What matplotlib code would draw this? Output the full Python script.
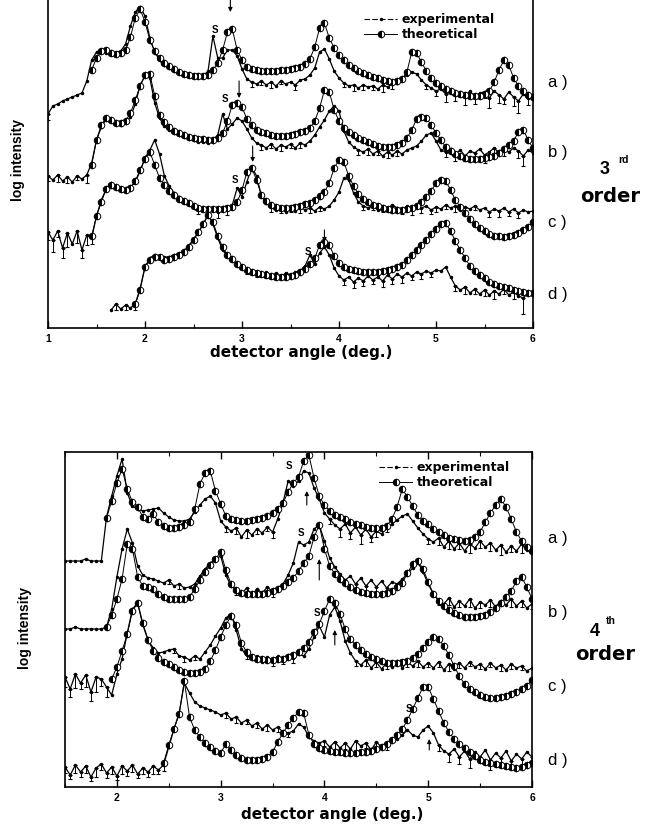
import matplotlib
matplotlib.use("Agg")
import matplotlib.pyplot as plt
from matplotlib.lines import Line2D
from matplotlib.ticker import MultipleLocator
import numpy as np

plt.rcParams['font.family'] = ['Liberation Sans', 'DejaVu Sans']

# detector angle grid step (deg) for every series
STEP = 0.05

# ---------------- 3rd order (upper panel), log intensity in arbitrary units
top_a_exp_start = 1.00
top_a_exp = [214, 222, 224, 227, 229, 231, 233, 235, 247, 268,
             276, 278, 275, 274, 275, 277, 284, 302, 316, 321,
             312, 290, 276, 268, 263, 260, 257, 255, 254, 253,
             252, 251, 252, 257, 292, 270, 270, 278, 278, 272,
             259, 249, 246, 244, 247, 243, 246, 242, 247, 244,
             246, 243, 248, 249, 253, 260, 276, 279, 269, 257,
             250, 245, 242, 243, 240, 243, 241, 242, 239, 243,
             241, 244, 245, 249, 253, 256, 254, 248, 243, 240,
             237, 239, 234, 237, 233, 236, 232, 237, 231, 235,
             236, 230, 237, 233, 229, 236, 231, 227, 234, 230,
             232]
top_a_err = [6, 0, 0, 0, 0, 0, 0, 0, 0, 0,
             0, 0, 0, 0, 0, 0, 0, 0, 0, 0,
             0, 0, 0, 0, 0, 0, 0, 0, 0, 0,
             0, 0, 0, 0, 0, 0, 0, 0, 0, 0,
             0, 0, 5, 0, 4, 0, 6, 0, 3, 0,
             0, 5, 0, 0, 0, 0, 0, 0, 0, 0,
             0, 4, 0, 6, 0, 5, 0, 4, 0, 7,
             0, 5, 0, 0, 0, 0, 0, 0, 4, 0,
             5, 0, 8, 0, 6, 0, 9, 0, 7, 0,
             6, 10, 0, 8, 5, 0, 9, 12, 0, 7,
             0]
top_a_theo_start = 1.45
top_a_theo = [258,
              270, 277, 278, 275, 274, 275, 278, 291, 310, 319,
              306, 288, 277, 270, 265, 262, 259, 256, 254, 253,
              252, 252, 252, 253, 258, 265, 278, 296, 299, 278,
              268, 261, 259, 258, 257, 257, 257, 257, 258, 258,
              259, 260, 261, 264, 269, 281, 300, 305, 290, 280,
              273, 268, 263, 260, 257, 255, 253, 251, 250, 248,
              247, 246, 247, 249, 256, 276, 275, 266, 257, 250,
              245, 242, 239, 237, 235, 234, 233, 232, 232, 232,
              234, 237, 246, 258, 268, 263, 250, 242, 237, 233,
              231]

top_b_exp_start = 1.00
top_b_exp = [152, 148, 153, 147, 151, 146, 152, 149, 153, 165,
             188, 201, 209, 208, 205, 203, 205, 211, 224, 243,
             252, 250, 225, 210, 202, 198, 195, 193, 191, 189,
             188, 186, 186, 185, 186, 193, 214, 199, 204, 210,
             207, 199, 190, 185, 183, 180, 184, 179, 183, 181,
             184, 180, 185, 183, 187, 193, 201, 208, 217, 222,
             217, 197, 186, 181, 178, 176, 179, 174, 177, 172,
             176, 173, 177, 174, 178, 180, 182, 187, 193, 195,
             187, 178, 176, 179, 174, 178, 172, 177, 175, 179,
             173, 176, 180, 175, 178, 176, 180, 177, 172, 178,
             175]
top_b_err = [5, 0, 7, 0, 6, 0, 4, 0, 8, 0,
             0, 0, 0, 0, 0, 0, 0, 0, 0, 0,
             0, 0, 0, 0, 0, 0, 0, 0, 0, 0,
             0, 0, 0, 0, 0, 0, 0, 0, 0, 0,
             0, 0, 0, 0, 5, 0, 4, 0, 6, 0,
             4, 0, 5, 0, 0, 0, 0, 0, 0, 0,
             0, 0, 0, 0, 5, 0, 6, 0, 4, 0,
             6, 0, 5, 0, 0, 0, 0, 0, 0, 0,
             0, 0, 5, 0, 7, 0, 5, 0, 6, 0,
             8, 0, 5, 0, 6, 0, 0, 7, 10, 0,
             0]
top_b_theo_start = 1.45
top_b_theo = [163,
              188, 203, 210, 208, 205, 205, 207, 215, 228, 242,
              253, 254, 232, 213, 206, 201, 197, 195, 193, 191,
              190, 189, 189, 188, 188, 190, 195, 207, 223, 225,
              221, 209, 203, 198, 196, 195, 193, 192, 192, 192,
              193, 194, 196, 197, 200, 207, 220, 238, 236, 218,
              207, 200, 196, 193, 190, 188, 186, 184, 182, 181,
              181, 181, 183, 185, 190, 198, 209, 211, 210, 203,
              195, 188, 181, 177, 174, 172, 170, 169, 169, 169,
              170, 171, 172, 175, 179, 183, 187, 196, 198, 188,
              180]

top_c_exp_start = 1.00
top_c_exp = [96, 88, 97, 80, 95, 84, 97, 78, 93, 90,
             112, 128, 139, 145, 142, 139, 138, 141, 146, 157,
             170, 178, 188, 174, 152, 142, 135, 131, 127, 124,
             122, 119, 121, 117, 120, 116, 121, 118, 123, 140,
             131, 146, 161, 152, 132, 125, 121, 118, 121, 116,
             120, 117, 121, 118, 120, 117, 121, 119, 122, 128,
             136, 150, 148, 135, 126, 122, 120, 123, 118, 122,
             119, 123, 120, 118, 122, 119, 123, 120, 122, 118,
             121, 119, 123, 120, 122, 118, 121, 119, 122, 118,
             120, 116, 119, 117, 120, 116, 119, 115, 118, 116,
             117]
top_c_err = [8, 12, 6, 10, 14, 0, 12, 8, 10, 6,
             0, 0, 0, 0, 0, 0, 0, 0, 0, 0,
             0, 0, 0, 0, 0, 0, 0, 0, 0, 0,
             0, 5, 0, 4, 0, 6, 0, 5, 0, 0,
             0, 0, 0, 0, 0, 0, 5, 0, 6, 0,
             4, 0, 6, 0, 5, 0, 4, 0, 0, 0,
             0, 0, 0, 0, 0, 4, 0, 5, 0, 6,
             0, 5, 0, 4, 0, 6, 0, 5, 0, 4,
             5, 0, 4, 0, 6, 0, 5, 0, 4, 0,
             0, 5, 0, 6, 0, 4, 0, 5, 0, 0,
             0]
top_c_theo_start = 1.45
top_c_theo = [92,
              112, 126, 139, 143, 141, 139, 138, 140, 147, 158,
              169, 176, 163, 150, 143, 137, 133, 129, 127, 125,
              122, 120, 119, 119, 119, 119, 119, 120, 121, 126,
              138, 156, 160, 148, 133, 127, 123, 121, 120, 120,
              120, 121, 122, 124, 125, 128, 132, 136, 145, 160,
              168, 166, 152, 142, 134, 129, 126, 123, 122, 120,
              119, 118, 118, 118, 119, 120, 122, 126, 131, 137,
              145, 148, 147, 138, 128, 121, 115, 109, 104, 100,
              97, 94, 92, 92, 91, 92, 93, 95, 98, 101,
              106]

top_d_exp_start = 1.65
top_d_exp = [18, 24, 19, 23, 20, 24, 40,
             61, 70, 73, 72, 71, 71, 73, 74, 77, 82,
             89, 95, 104, 113, 104, 90, 78, 72, 68, 63,
             61, 58, 57, 56, 53, 56, 52, 55, 51, 55,
             52, 56, 57, 62, 73, 64, 75, 81, 73, 60,
             52, 48, 51, 46, 50, 47, 52, 48, 51, 47,
             53, 49, 54, 51, 55, 52, 56, 54, 57, 55,
             58, 57, 61, 51, 42, 38, 41, 35, 39, 34,
             38, 33, 37, 34, 39, 33, 36, 32, 30, 35,
             33]
top_d_err = [0, 6, 0, 5, 0, 6, 0,
             0, 0, 0, 0, 0, 0, 0, 0, 0, 0,
             0, 0, 0, 0, 0, 0, 0, 0, 0, 0,
             0, 4, 0, 5, 0, 4, 0, 6, 0, 5,
             0, 4, 0, 0, 0, 0, 0, 0, 0, 0,
             0, 5, 0, 6, 0, 5, 0, 4, 0, 6,
             0, 5, 0, 6, 0, 4, 0, 5, 0, 4,
             0, 0, 0, 0, 5, 0, 7, 0, 5, 0,
             6, 0, 8, 0, 5, 0, 7, 0, 16, 0,
             0]
top_d_theo_start = 1.90
top_d_theo = [24, 38,
              61, 68, 71, 71, 68, 69, 71, 73, 76, 81,
              88, 96, 104, 113, 106, 92, 81, 73, 69, 64,
              61, 58, 56, 55, 54, 53, 52, 51, 51, 51,
              52, 53, 56, 59, 64, 70, 83, 86, 83, 72,
              65, 61, 59, 58, 57, 56, 56, 56, 56, 57,
              58, 59, 61, 63, 68, 73, 78, 83, 88, 94,
              99, 104, 105, 97, 87, 78, 70, 62, 57, 53,
              50, 46, 44, 42, 41, 40, 38, 37, 36, 35,
              35]

# ---------------- 4th order (lower panel)
bot_a_exp_start = 1.50
bot_a_exp = [226, 226, 226, 226, 228, 226, 226, 226, 270, 291,
             311, 328, 294, 281, 278, 276, 277, 278, 279, 274,
             270, 267, 266, 266, 268, 275, 282, 288, 291, 284,
             266, 260, 256, 259, 250, 257, 252, 258, 254, 260,
             255, 268, 284, 306, 301, 306, 316, 314, 299, 288,
             274, 268, 262, 258, 263, 254, 260, 252, 258, 250,
             256, 253, 259, 263, 267, 271, 273, 266, 259, 253,
             248, 245, 249, 240, 246, 238, 244, 236, 243, 239,
             246, 240, 244, 237, 242, 235, 241, 236, 243, 237,
             240]
bot_a_err = [0, 0, 0, 0, 0, 0, 0, 0, 0, 0,
             0, 0, 0, 0, 0, 0, 0, 0, 0, 0,
             0, 0, 0, 0, 0, 0, 0, 0, 0, 0,
             0, 5, 0, 6, 0, 8, 0, 5, 0, 4,
             6, 0, 0, 0, 0, 0, 0, 0, 0, 0,
             0, 5, 0, 8, 0, 6, 0, 9, 0, 5,
             6, 0, 4, 0, 0, 0, 0, 0, 0, 0,
             5, 0, 7, 0, 8, 0, 6, 0, 9, 0,
             7, 0, 8, 0, 10, 0, 6, 0, 9, 0,
             6]
bot_a_theo_start = 1.90
bot_a_theo = [269, 286,
              304, 318, 298, 285, 280, 270, 268, 273, 265, 261,
              259, 259, 260, 262, 265, 278, 303, 314, 316, 296,
              283, 271, 268, 267, 266, 266, 267, 268, 269, 271,
              274, 278, 284, 295, 304, 310, 326, 332, 309, 291,
              282, 276, 272, 270, 268, 265, 263, 262, 260, 259,
              259, 259, 261, 268, 280, 298, 290, 281, 272, 266,
              263, 258, 255, 252, 249, 248, 247, 246, 247, 250,
              255, 265, 274, 282, 288, 280, 268, 255, 246, 240,
              236]

bot_b_exp_start = 1.50
bot_b_exp = [158, 158, 160, 158, 158, 158, 158, 158, 160, 178,
             210, 238, 258, 244, 221, 212, 209, 208, 206, 204,
             207, 201, 203, 199, 200, 203, 211, 218, 224, 228,
             231, 212, 201, 197, 193, 199, 192, 198, 194, 200,
             195, 199, 203, 212, 224, 245, 242, 245, 258, 262,
             246, 229, 220, 213, 207, 211, 203, 209, 201, 207,
             200, 206, 199, 205, 203, 208, 213, 219, 225, 215,
             203, 193, 187, 183, 189, 180, 186, 181, 188, 179,
             185, 182, 187, 180, 186, 182, 188, 181, 186, 179,
             183]
bot_b_err = [0, 0, 0, 0, 0, 0, 0, 0, 0, 0,
             0, 0, 0, 0, 0, 0, 0, 0, 0, 0,
             4, 0, 5, 0, 0, 0, 0, 0, 0, 0,
             0, 0, 0, 5, 0, 6, 0, 5, 0, 4,
             5, 0, 0, 0, 0, 0, 0, 0, 0, 0,
             0, 0, 0, 0, 5, 0, 6, 0, 7, 0,
             5, 0, 6, 0, 4, 0, 0, 0, 0, 0,
             0, 0, 5, 0, 7, 0, 6, 0, 8, 0,
             6, 0, 7, 0, 5, 0, 8, 0, 6, 0,
             5]
bot_b_theo_start = 1.90
bot_b_theo = [160, 172,
              188, 208, 243, 238, 210, 201, 200, 198, 193, 190,
              188, 188, 188, 188, 190, 198, 207, 215, 222, 228,
              235, 217, 203, 197, 194, 193, 193, 193, 193, 194,
              196, 198, 201, 205, 209, 216, 224, 231, 250, 262,
              238, 221, 213, 208, 204, 200, 197, 195, 194, 193,
              193, 193, 194, 196, 200, 204, 214, 223, 226, 218,
              205, 193, 186, 181, 177, 174, 172, 170, 170, 170,
              171, 172, 175, 179, 184, 190, 196, 206, 210, 200,
              188]

bot_c_exp_start = 1.50
bot_c_exp = [110, 98, 113, 104, 112, 95, 110, 108, 100, 92,
             113, 128, 154, 178, 184, 162, 147, 139, 134, 135,
             137, 138, 131, 130, 127, 131, 128, 135, 142, 151,
             159, 169, 173, 157, 138, 132, 128, 131, 125, 130,
             126, 131, 127, 132, 129, 133, 131, 138, 150, 161,
             150, 172, 180, 166, 146, 134, 126, 122, 127, 119,
             125, 118, 124, 120, 126, 119, 125, 121, 126, 120,
             124, 119, 125, 117, 123, 118, 124, 119, 125, 120,
             123, 118, 124, 119, 122, 117, 123, 119, 121, 116,
             119]
bot_c_err = [10, 8, 14, 6, 12, 9, 15, 7, 10, 0,
             0, 0, 0, 0, 0, 0, 0, 0, 0, 0,
             0, 4, 0, 5, 0, 4, 0, 0, 0, 0,
             0, 0, 0, 0, 0, 4, 0, 5, 0, 4,
             5, 0, 4, 0, 5, 0, 0, 0, 0, 0,
             0, 0, 0, 0, 0, 0, 5, 0, 6, 0,
             5, 0, 6, 0, 4, 0, 5, 0, 6, 0,
             4, 0, 5, 0, 7, 0, 5, 0, 4, 0,
             5, 0, 4, 0, 6, 0, 5, 0, 4, 0,
             0]
bot_c_theo_start = 1.95
bot_c_theo = [108,
              120, 136, 153, 176, 184, 164, 147, 136, 129, 125,
              123, 120, 117, 115, 114, 114, 115, 118, 126, 137,
              150, 162, 171, 162, 144, 135, 130, 128, 128, 127,
              127, 128, 128, 130, 132, 135, 139, 145, 155, 163,
              176, 188, 184, 173, 158, 148, 142, 137, 133, 130,
              128, 126, 124, 124, 124, 125, 126, 129, 133, 139,
              145, 150, 148, 141, 132, 121, 111, 103, 98, 95,
              92, 90, 89, 89, 90, 91, 93, 95, 98, 101,
              107]

bot_d_exp_start = 1.50
bot_d_exp = [20, 12, 22, 15, 21, 10, 19, 23, 14, 20,
             11, 21, 16, 22, 13, 19, 15, 21, 17, 22,
             40, 58, 74, 104, 94, 85, 81, 79, 77, 75,
             72, 74, 68, 70, 64, 67, 61, 64, 58, 62,
             57, 60, 55, 54, 56, 63, 60, 50, 46, 44,
             46, 40, 45, 39, 44, 38, 46, 41, 44, 37,
             45, 40, 43, 46, 48, 52, 57, 52, 50, 57,
             61, 54, 42, 36, 33, 38, 30, 36, 28, 35,
             30, 37, 27, 34, 29, 36, 26, 33, 28, 35,
             30]
bot_d_err = [6, 4, 8, 5, 7, 4, 9, 6, 5, 7,
             4, 8, 5, 7, 4, 6, 5, 8, 4, 6,
             0, 0, 0, 0, 0, 0, 0, 0, 0, 0,
             0, 5, 0, 6, 0, 4, 0, 5, 0, 6,
             0, 5, 0, 4, 0, 0, 0, 0, 0, 0,
             5, 0, 7, 0, 6, 0, 9, 0, 5, 0,
             8, 0, 6, 0, 0, 0, 0, 0, 0, 0,
             0, 0, 6, 0, 8, 0, 7, 0, 9, 0,
             6, 0, 10, 0, 7, 0, 8, 0, 6, 0,
             5]
bot_d_theo_start = 2.45
bot_d_theo = [24,
              42, 58, 73, 106, 70, 57, 50, 44, 40, 36,
              34, 43, 37, 32, 29, 27, 27, 27, 28, 30,
              35, 45, 54, 62, 69, 75, 74, 52, 43, 39,
              37, 36, 35, 35, 34, 34, 34, 35, 35, 36,
              38, 40, 43, 47, 52, 58, 67, 78, 89, 100,
              100, 88, 76, 64, 55, 48, 43, 39, 35, 31,
              27, 25, 24, 23, 22, 21, 20, 19, 20, 22,
              24]

curve_labels = ['a )', 'b )', 'c )', 'd )']
# "S" marks (angle, height) and arrows (angle, tail, head)
top_s_marks = [(2.72, 298), (2.82, 229), (2.93, 148), (3.68, 76)]
top_arrows = [(2.88, 332, 316), (2.97, 247, 230), (3.11, 182, 166), (3.85, 98, 86)]
bot_s_marks = [(3.66, 321), (3.77, 254), (3.93, 174), (4.81, 78)]
bot_arrows = [(3.83, 282, 296), (3.95, 207, 228), (4.10, 142, 157), (5.01, 37, 48)]

W, H = 650, 827


def grid(start, vals):
    return start + STEP * np.arange(len(vals))


def px(x, y):
    return x / W, 1 - y / H


fig = plt.figure(figsize=(6.5, 8.27), dpi=100)
ax1 = fig.add_axes([48 / W, 1 - 328 / H, 485 / W, 328 / H])
ax2 = fig.add_axes([65 / W, 1 - 787 / H, 467 / W, 335 / H])

exp_kw = dict(color='black', lw=0.9, marker='.', ms=3)
theo_kw = dict(color='black', lw=0.7, marker='o', ms=4.7, fillstyle='left',
               markerfacecolor='black', markerfacecoloralt='white',
               markeredgecolor='black', mew=0.7)

top_sets = [(top_a_exp_start, top_a_exp, top_a_err, top_a_theo_start, top_a_theo),
            (top_b_exp_start, top_b_exp, top_b_err, top_b_theo_start, top_b_theo),
            (top_c_exp_start, top_c_exp, top_c_err, top_c_theo_start, top_c_theo),
            (top_d_exp_start, top_d_exp, top_d_err, top_d_theo_start, top_d_theo)]
bot_sets = [(bot_a_exp_start, bot_a_exp, bot_a_err, bot_a_theo_start, bot_a_theo),
            (bot_b_exp_start, bot_b_exp, bot_b_err, bot_b_theo_start, bot_b_theo),
            (bot_c_exp_start, bot_c_exp, bot_c_err, bot_c_theo_start, bot_c_theo),
            (bot_d_exp_start, bot_d_exp, bot_d_err, bot_d_theo_start, bot_d_theo)]

for ax, sets in ((ax1, top_sets), (ax2, bot_sets)):
    for es, ev, err, ts, tv in sets:
        x = grid(es, ev)
        y = np.array(ev, dtype=float)
        e = np.array(err, dtype=float)
        ax.plot(x, y, **exp_kw)
        m = e > 0
        ax.errorbar(x[m], y[m], yerr=[e[m], np.zeros(m.sum())], fmt='none',
                    ecolor='black', elinewidth=0.7, capsize=1.3, capthick=0.8)
    for es, ev, err, ts, tv in sets:
        ax.plot(grid(ts, tv), tv, **theo_kw)

for ax, marks, arrows in ((ax1, top_s_marks, top_arrows),
                          (ax2, bot_s_marks, bot_arrows)):
    for x, y in marks:
        ax.text(x, y, 'S', fontsize=7, fontweight='bold', ha='center', va='center')
    for x, y0, y1 in arrows:
        ax.annotate('', xy=(x, y1), xytext=(x, y0), annotation_clip=False,
                    arrowprops=dict(arrowstyle='-|>', color='black', lw=0.8,
                                    mutation_scale=6, shrinkA=0, shrinkB=0))

ax1.set_xlim(1, 6)
ax1.set_ylim(0, 328)
ax2.set_xlim(1.5, 6)
ax2.set_ylim(0, 335)
ax1.xaxis.set_major_locator(MultipleLocator(1))
ax2.set_xticks([2, 3, 4, 5, 6])
ax1.spines['top'].set_visible(False)

for ax in (ax1, ax2):
    ax.set_yticks([])
    ax.xaxis.set_minor_locator(MultipleLocator(0.5))
    ax.tick_params(axis='x', which='both', direction='in', top=(ax is ax2),
                   pad=4, labelsize=7.5)
    ax.tick_params(axis='x', which='major', length=5, width=1)
    ax.tick_params(axis='x', which='minor', length=3, width=0.8)
    for lbl in ax.get_xticklabels():
        lbl.set_fontweight('bold')
    for sp in ax.spines.values():
        sp.set_linewidth(1.2)

# legends
exp_handle = Line2D([], [], color='black', lw=0.8, ls=(0, (5, 2)), marker='.', ms=3)
theo_handle = Line2D([], [], **theo_kw)
for anchor in ((358, 7), (373, 455)):
    fig.legend([exp_handle, theo_handle], ['experimental', 'theoretical'],
               loc='upper left', bbox_to_anchor=px(*anchor), frameon=False,
               numpoints=1, handlelength=2.6, handletextpad=0.4, labelspacing=0.15,
               borderpad=0, prop={'family': 'DejaVu Sans', 'weight': 'bold', 'size': 9})

# curve labels
for lab, y in zip(curve_labels, [82, 152, 223, 295]):
    fig.text(*px(548, y), lab, fontsize=12, ha='left', va='center')
for lab, y in zip(curve_labels, [538, 612, 687, 760]):
    fig.text(*px(548, y), lab, fontsize=12, ha='left', va='center')

fig.text(*px(600, 170), '3', fontsize=13, fontweight='bold', ha='left', va='center')
fig.text(*px(618, 160), 'rd', fontsize=7.5, fontweight='bold', ha='left', va='center')
fig.text(*px(610, 197), 'order', fontsize=14, fontweight='bold', ha='center', va='center',
         family='DejaVu Sans')
fig.text(*px(590, 632), '4', fontsize=13, fontweight='bold', ha='left', va='center')
fig.text(*px(606, 621), 'th', fontsize=7.5, fontweight='bold', ha='left', va='center')
fig.text(*px(605, 655), 'order', fontsize=14, fontweight='bold', ha='center', va='center',
         family='DejaVu Sans')

fig.text(*px(18, 160), 'log intensity', rotation=90, fontsize=10, fontweight='bold',
         ha='center', va='center')
fig.text(*px(25, 628), 'log intensity', rotation=90, fontsize=10, fontweight='bold',
         ha='center', va='center')
fig.text(*px(301, 352), 'detector angle (deg.)', fontsize=11, fontweight='bold',
         ha='center', va='center', family='DejaVu Sans')
fig.text(*px(332, 815), 'detector angle (deg.)', fontsize=11, fontweight='bold',
         ha='center', va='center', family='DejaVu Sans')

fig.savefig('out.png', dpi=100)
